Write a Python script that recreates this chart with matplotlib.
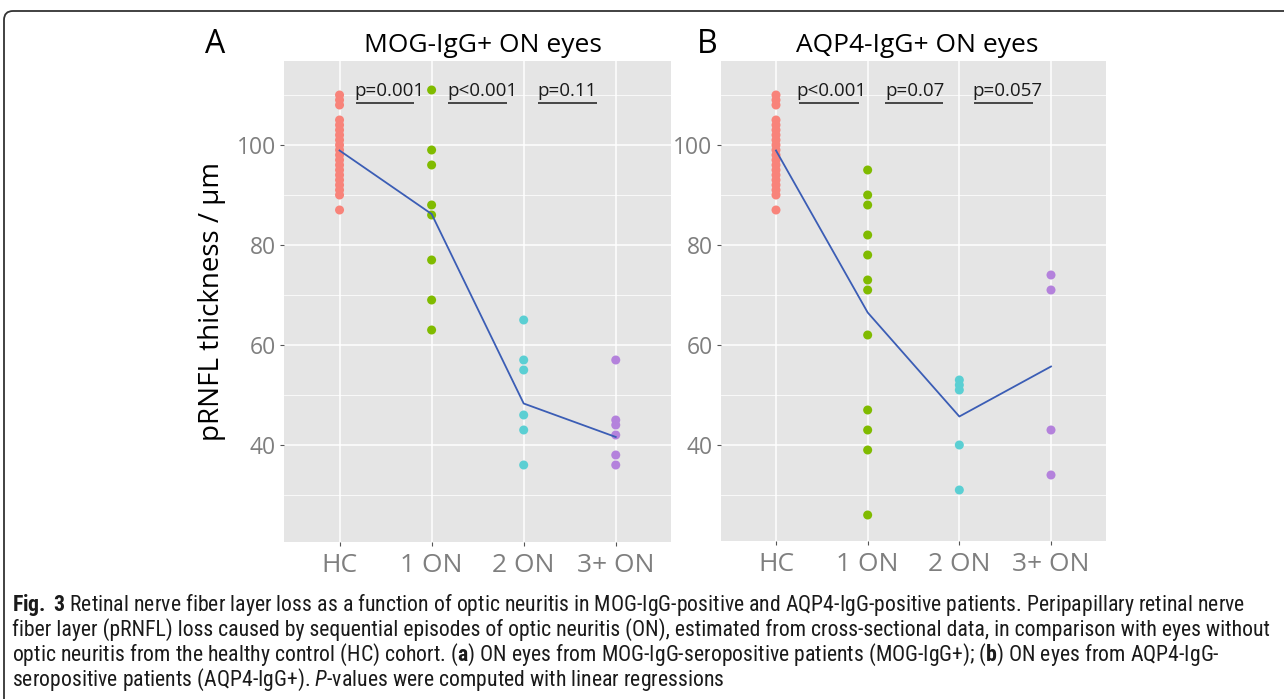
import numpy as np
import matplotlib
matplotlib.use("Agg")
import matplotlib.pyplot as plt
from matplotlib import font_manager
from matplotlib.path import Path
from matplotlib.patches import PathPatch
from matplotlib.transforms import IdentityTransform

# ---------------- data ----------------
categories = ["HC", "1 ON", "2 ON", "3+ ON"]

hc = [110, 109, 108, 105, 104, 103, 102, 101, 100, 99, 98, 97, 96,
      95, 94, 93, 92, 91, 90, 87]

mog_1on = [111, 99, 96, 88, 86, 77, 69, 63]
mog_2on = [65, 57, 55, 46, 43, 36]
mog_3on = [57, 45, 44, 42, 38, 36]
mog_fit = [98.9, 86.2, 48.3, 41.6]
mog_p = ["p=0.001", "p<0.001", "p=0.11"]

aqp_1on = [95, 90, 88, 82, 78, 73, 71, 62, 47, 43, 39, 26]
aqp_2on = [53, 52, 51, 40, 31]
aqp_3on = [74, 71, 43, 34]
aqp_fit = [98.9, 66.5, 45.7, 55.7]
aqp_p = ["p<0.001", "p=0.07", "p=0.057"]

y_ticks = [40, 60, 80, 100]
y_minor = [30, 50, 70, 90, 110]

# ---------------- fonts ----------------
installed = {f.name for f in font_manager.fontManager.ttflist}
cap_candidates = ["Roboto Condensed", "Open Sans Condensed", "Liberation Sans Narrow",
                  "Noto Sans Condensed", "Roboto", "Liberation Sans"]
cap_font = next((f for f in cap_candidates if f in installed), "DejaVu Sans")

W, H = 1284, 699
plt.rcParams["font.family"] = ["Open Sans", "DejaVu Sans"]
plt.rcParams["mathtext.fontset"] = "custom"
plt.rcParams["mathtext.rm"] = cap_font
plt.rcParams["mathtext.bf"] = cap_font + ":bold"
plt.rcParams["mathtext.it"] = cap_font + ":italic"

group_colors = ["#F8837A", "#80BB00", "#5BCFD3", "#B482DC"]
line_color = "#3B5DB5"
panel_bg = "#E5E5E5"

fig = plt.figure(figsize=(W / 100, H / 100), dpi=100)


def fx(px):
    return px / W


def fy(py):
    return 1 - py / H


def make_axes(left, right, top, bottom):
    return fig.add_axes([fx(left), fy(bottom), (right - left) / W, (bottom - top) / H])


axA = make_axes(284.3, 671, 61, 541.5)
axB = make_axes(721, 1106, 61, 540.5)

# p-value annotation geometry (x in category units)
p_text_x = {"A": [1.16, 2.167, 3.146], "B": [1.226, 2.194, 3.139]}
p_seg = {"A": [(1.18, 1.81), (2.18, 2.82), (3.16, 3.80)],
         "B": [(1.25, 1.90), (2.186, 2.825), (3.16, 3.80)]}


def draw_panel(ax, groups, fit, pvals, key, ylim):
    ax.set_facecolor(panel_bg)
    for s in ax.spines.values():
        s.set_visible(False)
    ax.set_xlim(0.4, 4.6)
    ax.set_ylim(*ylim)
    xs = np.arange(1, len(categories) + 1)
    ax.set_xticks(xs)
    ax.set_xticklabels(categories)
    ax.set_yticks(y_ticks)
    ax.set_yticks(y_minor, minor=True)
    ax.set_yticklabels([str(v) for v in y_ticks])
    ax.grid(which="major", color="white", linewidth=1.1)
    ax.grid(which="minor", axis="y", color="white", linewidth=0.55)
    ax.set_axisbelow(True)
    ax.tick_params(axis="both", which="major", length=3, width=0.8,
                   color="#555555", labelcolor="#7F7F7F")
    ax.tick_params(axis="y", which="minor", length=0)
    ax.tick_params(axis="y", labelsize=16.5, pad=3)
    ax.tick_params(axis="x", labelsize=19, pad=5)

    for i, (vals, c) in enumerate(zip(groups, group_colors)):
        ax.scatter(np.full(len(vals), xs[i]), vals, s=42, color=c,
                   edgecolors="none", zorder=3)
    ax.plot(xs, fit, color=line_color, linewidth=1.3, zorder=4)

    for t, tx, (x0, x1) in zip(pvals, p_text_x[key], p_seg[key]):
        ax.text(tx, 109.7, t, fontsize=13.5, color="#1A1A1A",
                ha="left", va="baseline", zorder=5)
        ax.plot([x0, x1], [108.4, 108.4], color="#1A1A1A",
                linewidth=1.1, solid_capstyle="butt", zorder=5)


draw_panel(axA, [hc, mog_1on, mog_2on, mog_3on], mog_fit, mog_p, "A", (20.7, 116.8))
draw_panel(axB, [hc, aqp_1on, aqp_2on, aqp_3on], aqp_fit, aqp_p, "B", (20.9, 116.8))

axA.set_ylabel("pRNFL thickness / µm", fontsize=20, color="black", labelpad=8)

# titles and panel letters
fig.text(fx(483), fy(52), "MOG-IgG+ ON eyes", fontsize=19, ha="center",
         va="baseline", color="black")
fig.text(fx(917), fy(52), "AQP4-IgG+ ON eyes", fontsize=19, ha="center",
         va="baseline", color="black")
fig.text(fx(205), fy(53), "A", fontsize=23, ha="left", va="baseline", color="black")
fig.text(fx(697), fy(53), "B", fontsize=23, ha="left", va="baseline", color="black")

# caption
cap_lines = [
    r"$\mathbf{Fig.}$ $\mathbf{3}$ Retinal nerve fiber layer loss as a function of optic neuritis in MOG-IgG-positive and AQP4-IgG-positive patients. Peripapillary retinal nerve",
    "fiber layer (pRNFL) loss caused by sequential episodes of optic neuritis (ON), estimated from cross-sectional data, in comparison with eyes without",
    r"optic neuritis from the healthy control (HC) cohort. ($\mathbf{a}$) ON eyes from MOG-IgG-seropositive patients (MOG-IgG+); ($\mathbf{b}$) ON eyes from AQP4-IgG-",
    r"seropositive patients (AQP4-IgG+). $\mathit{P}$-values were computed with linear regressions",
]
cap_base = [611, 636, 661, 686]
cap_x = 12
cap_right = 1281  # right end of the widest (second) line in the reference
base_size = 14.0
cap_texts = []
for line, yb in zip(cap_lines, cap_base):
    t = fig.text(fx(cap_x), fy(yb), line, fontsize=base_size, ha="left",
                 va="baseline", color="#1A1A1A", family=[cap_font, "DejaVu Sans"])
    cap_texts.append(t)

renderer = fig.canvas.get_renderer()
widest = max(t.get_window_extent(renderer).width for t in cap_texts)
new_size = min(16.0, base_size * (cap_right - cap_x) / widest)
for t in cap_texts:
    t.set_fontsize(new_size)

# rounded frame (pixel coordinates, origin bottom-left)
r = 9
top = H - 11
left = 4
verts = [(left, -5), (left, top - r), (left, top), (left + r, top), (W + 5, top)]
codes = [Path.MOVETO, Path.LINETO, Path.CURVE3, Path.CURVE3, Path.LINETO]
frame = PathPatch(Path(verts, codes), transform=IdentityTransform(), fill=False,
                  edgecolor="#333333", linewidth=1.3)
fig.add_artist(frame)

fig.savefig("out.png", dpi=100)
